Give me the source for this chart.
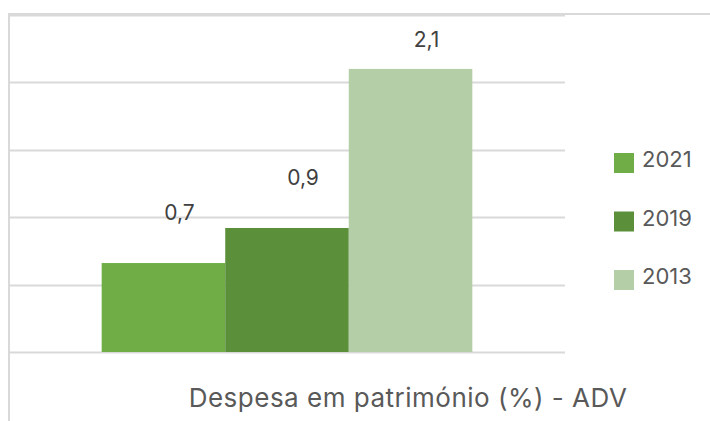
<!DOCTYPE html>
<html>
<head>
<meta charset="utf-8">
<script src="https://cdn.jsdelivr.net/npm/d3@7"></script>
<style>
  body { margin: 0; background: #fff; }
  svg { display: block; font-family: "Inter", "Open Sans", sans-serif; }
</style>
</head>
<body>
<script>
// data
let years = ["2021", "2019", "2013"];
let values = [0.66, 0.92, 2.1];
let colours = ["#70ad47", "#5b8f3a", "#b4cea7"];
let yTicks = [0, 0.5, 1, 1.5, 2, 2.5];
let category = ["Despesa em património (%) - ADV"];

let width = 710;
let height = 421;
let plot = { left: 9, right: 565, top: 15, bottom: 352 };

let svg = d3
  .select("body")
  .append("svg")
  .attr("width", width)
  .attr("height", height);

// outer chart border (only top and left are visible)
svg
  .append("rect")
  .attr("x", 9)
  .attr("y", 14)
  .attr("width", width + 20)
  .attr("height", height + 20)
  .attr("fill", "none")
  .attr("stroke", "#d9d9d9")
  .attr("stroke-width", 2);

let y = d3
  .scaleLinear()
  .domain([0, 2.5])
  .range([plot.bottom, plot.top]);

let x0 = d3
  .scaleBand()
  .domain(category)
  .range([plot.left, plot.right])
  .padding(0.2);

let x1 = d3
  .scaleBand()
  .domain(years)
  .range([0, x0.bandwidth()]);

// gridlines
svg
  .append("g")
  .selectAll("line")
  .data(yTicks)
  .join("line")
  .attr("x1", plot.left)
  .attr("x2", plot.right)
  .attr("y1", (d) => Math.round(y(d)) + 0.5)
  .attr("y2", (d) => Math.round(y(d)) + 0.5)
  .attr("stroke", "#d9d9d9")
  .attr("stroke-width", 2);

let rows = years.map((yr, i) => ({ year: yr, value: values[i], colour: colours[i] }));
let fmt = (v) => d3.format(".1f")(v).replace(".", ",");

let bars = svg
  .append("g")
  .attr("transform", `translate(${x0(category[0])},0)`);

bars
  .selectAll("rect")
  .data(rows)
  .join("rect")
  .attr("x", (d) => x1(d.year))
  .attr("y", (d) => y(d.value))
  .attr("width", x1.bandwidth())
  .attr("height", (d) => y(0) - y(d.value))
  .attr("fill", (d) => d.colour);

// value labels (kept inside the plot area like excel does)
bars
  .selectAll("text")
  .data(rows)
  .join("text")
  .attr("x", (d) => x1(d.year) + x1.bandwidth() * 0.63)
  .attr("y", (d) => Math.max(y(d.value) - 43, 47))
  .attr("text-anchor", "middle")
  .attr("font-size", 21)
  .attr("fill", "#404040")
  .text((d) => fmt(d.value));

// axis title
svg
  .append("text")
  .attr("x", 408)
  .attr("y", 407)
  .attr("text-anchor", "middle")
  .attr("font-size", 26)
  .attr("letter-spacing", 0.5)
  .attr("fill", "#595959")
  .text(category[0]);

// legend
let legend = svg
  .append("g")
  .selectAll("g")
  .data(rows)
  .join("g")
  .attr("transform", (d, i) => `translate(614,${153 + i * 58.5})`);

legend
  .append("rect")
  .attr("width", 20)
  .attr("height", 20)
  .attr("fill", (d) => d.colour);

legend
  .append("text")
  .attr("x", 28)
  .attr("y", 14)
  .attr("font-size", 22)
  .attr("fill", "#595959")
  .text((d) => d.year);
</script>
</body>
</html>
